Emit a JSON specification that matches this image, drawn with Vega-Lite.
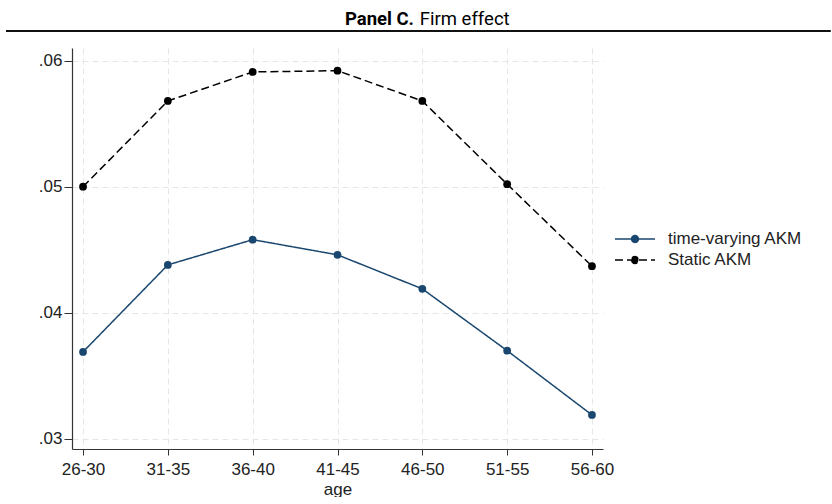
{
  "$schema": "https://vega.github.io/schema/vega-lite/v6.json",
  "padding": {"left": 5, "top": 0, "right": 0, "bottom": 0},
  "spacing": 16,
  "config": {
    "view": {"stroke": null},
    "font": "Liberation Sans",
    "axis": {
      "domainColor": "#333333",
      "domainWidth": 1.2,
      "tickColor": "#333333",
      "labelColor": "#222222",
      "labelFontSize": 17,
      "titleColor": "#222222",
      "titleFontSize": 17,
      "titleFontWeight": "normal",
      "gridColor": "#e6e6e6",
      "gridDash": [6, 4],
      "gridWidth": 1
    }
  },
  "datasets": {
    "firm": [
      {"age": "26-30", "series": "time-varying AKM", "value": 0.0369},
      {"age": "31-35", "series": "time-varying AKM", "value": 0.0438},
      {"age": "36-40", "series": "time-varying AKM", "value": 0.0458},
      {"age": "41-45", "series": "time-varying AKM", "value": 0.0446},
      {"age": "46-50", "series": "time-varying AKM", "value": 0.0419},
      {"age": "51-55", "series": "time-varying AKM", "value": 0.0370},
      {"age": "56-60", "series": "time-varying AKM", "value": 0.0319},
      {"age": "26-30", "series": "Static AKM", "value": 0.0500},
      {"age": "31-35", "series": "Static AKM", "value": 0.0568},
      {"age": "36-40", "series": "Static AKM", "value": 0.0591},
      {"age": "41-45", "series": "Static AKM", "value": 0.0592},
      {"age": "46-50", "series": "Static AKM", "value": 0.0568},
      {"age": "51-55", "series": "Static AKM", "value": 0.0502},
      {"age": "56-60", "series": "Static AKM", "value": 0.0437}
    ]
  },
  "vconcat": [
    {
      "width": 531,
      "height": 31,
      "layer": [
        {
          "data": {"values": [{"t": "Panel C."}]},
          "mark": {"type": "text", "fontWeight": "bold", "align": "right", "baseline": "alphabetic", "fontSize": 18.5, "font": "Roboto", "color": "#000000", "clip": false},
          "encoding": {
            "text": {"field": "t"},
            "x": {"datum": 0.644, "type": "quantitative", "scale": {"domain": [0, 1]}, "axis": null},
            "y": {"datum": 0.194, "type": "quantitative", "scale": {"domain": [0, 1]}, "axis": null}
          }
        },
        {
          "data": {"values": [{"t": "Firm effect"}]},
          "mark": {"type": "text", "fontWeight": "normal", "align": "left", "baseline": "alphabetic", "fontSize": 18.5, "font": "Roboto", "color": "#000000", "clip": false},
          "encoding": {
            "text": {"field": "t"},
            "x": {"datum": 0.655, "type": "quantitative", "scale": {"domain": [0, 1]}, "axis": null},
            "y": {"datum": 0.194, "type": "quantitative", "scale": {"domain": [0, 1]}, "axis": null}
          }
        },
        {
          "data": {"values": [{"t": "line"}]},
          "mark": {"type": "rule", "strokeWidth": 1.8, "color": "#111111", "clip": false},
          "encoding": {
            "x": {"datum": -0.1243, "type": "quantitative", "scale": {"domain": [0, 1]}, "axis": null},
            "x2": {"datum": 1.429},
            "y": {"datum": 0, "type": "quantitative", "scale": {"domain": [0, 1]}, "axis": null}
          }
        }
      ]
    },
    {
      "width": 531,
      "height": 401,
      "data": {"name": "firm"},
      "encoding": {
        "x": {
          "field": "age", "type": "ordinal",
          "sort": ["26-30", "31-35", "36-40", "41-45", "46-50", "51-55", "56-60"],
          "scale": {"type": "point", "padding": 0.13},
          "axis": {"title": "age", "labelAngle": 0, "tickSize": 6, "labelPadding": 6, "titlePadding": 4, "grid": true}
        },
        "y": {
          "field": "value", "type": "quantitative",
          "scale": {"domain": [0.0292, 0.061], "nice": false, "zero": false},
          "axis": {"title": null, "values": [0.03, 0.04, 0.05, 0.06], "labelExpr": "slice(format(datum.value, '.2f'), 1)", "tickSize": 8, "labelPadding": 2, "minExtent": 66, "grid": true}
        },
        "color": {
          "field": "series", "type": "nominal",
          "scale": {"domain": ["time-varying AKM", "Static AKM"], "range": ["#1a476f", "#000000"]},
          "legend": {
            "title": null, "orient": "none", "legendX": 552, "legendY": 228,
            "symbolType": "M-2,0H2M-0.35,0A0.35,0.35 0 1,0 0.35,0A0.35,0.35 0 1,0 -0.35,0Z",
            "symbolSize": 400, "symbolStrokeWidth": 1.4, "labelFontSize": 17, "labelOffset": 22,
            "rowPadding": 2, "padding": 0, "labelColor": "#222222",
            "encode": {"symbols": {"update": {"fill": {"scale": "color", "field": "value"}}}}
          }
        }
      },
      "layer": [
        {
          "mark": {"type": "line", "strokeWidth": 1.5},
          "encoding": {
            "strokeDash": {
              "field": "series", "type": "nominal",
              "scale": {"domain": ["time-varying AKM", "Static AKM"], "range": [[1, 0], [8, 4]]},
              "legend": {
                "title": null, "orient": "none", "legendX": 552, "legendY": 228,
                "symbolType": "M-2,0H2M-0.35,0A0.35,0.35 0 1,0 0.35,0A0.35,0.35 0 1,0 -0.35,0Z",
                "symbolSize": 400, "symbolStrokeWidth": 1.4, "labelFontSize": 17, "labelOffset": 22,
                "rowPadding": 2, "padding": 0, "labelColor": "#222222",
                "encode": {"symbols": {"update": {"fill": {"scale": "color", "field": "value"}}}}
              }
            }
          }
        },
        {
          "mark": {"type": "point", "filled": true, "size": 60, "opacity": 1}
        }
      ]
    }
  ]
}
